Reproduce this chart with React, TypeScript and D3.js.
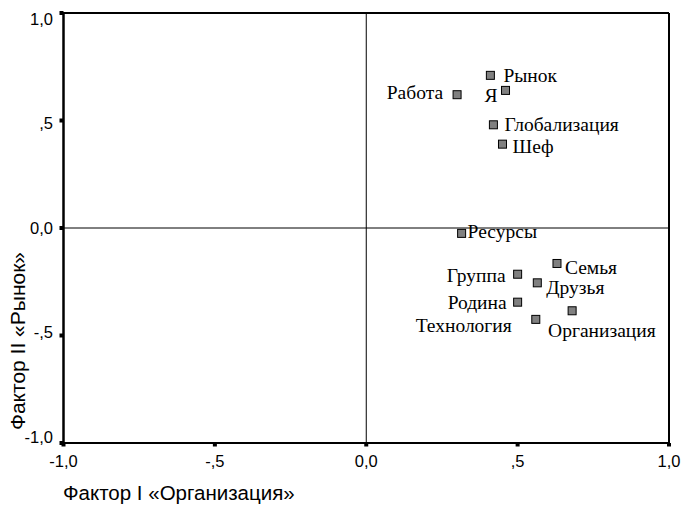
import * as d3 from 'd3';

// factor loadings
const names = ['Рынок', 'Я', 'Работа', 'Глобализация', 'Шеф', 'Ресурсы', 'Семья', 'Группа', 'Друзья', 'Родина', 'Организация', 'Технология'];
const factor1 = [0.41, 0.46, 0.30, 0.42, 0.45, 0.315, 0.63, 0.50, 0.565, 0.50, 0.68, 0.56];
const factor2 = [0.71, 0.64, 0.62, 0.48, 0.39, -0.025, -0.165, -0.215, -0.255, -0.345, -0.385, -0.425];
const tickValues = [-1, -0.5, 0, 0.5, 1];
const tickLabels = ['-1,0', '-,5', '0,0', ',5', '1,0'];
const xTitle = 'Фактор I «Организация»';
const yTitle = 'Фактор II «Рынок»';

// label placement: [dx, dy, anchor]
const labelPlace: Record<string, [number, number, string]> = {
  'Рынок': [13, 7, 'start'],
  'Я': [-8, 12, 'end'],
  'Работа': [-14, 4, 'end'],
  'Глобализация': [11, 6, 'start'],
  'Шеф': [10, 9, 'start'],
  'Ресурсы': [6, 5, 'start'],
  'Семья': [8, 11, 'start'],
  'Группа': [-12, 8, 'end'],
  'Друзья': [9, 11, 'start'],
  'Родина': [-11, 7, 'end'],
  'Организация': [-24, 26, 'start'],
  'Технология': [-24, 13, 'end'],
};

export default function App() {
  const width = 683;
  const height = 505;
  const m = { left: 63.5, right: 669, top: 13, bottom: 443 };

  const x = d3.scaleLinear().domain([-1, 1]).range([m.left, m.right]);
  const y = d3.scaleLinear().domain([-1, 1]).range([m.bottom, m.top]);
  // SPSS squeezes the y tick labels slightly toward the middle
  const yLab = d3.scaleLinear().domain([-1, 1]).range([437, 19]);

  const sans = '"Liberation Sans", Arial, sans-serif';
  const serif = '"Liberation Serif", "Times New Roman", serif';
  const ms = 8;

  return (
    <svg width={width} height={height} style={{ position: 'absolute', left: 0, top: 0, background: '#fff' }}>
      {/* frame */}
      <line x1={m.left} x2={m.right} y1={m.top} y2={m.top} stroke="#000" strokeWidth={2} />
      <line x1={m.right} x2={m.right} y1={m.top} y2={m.bottom} stroke="#000" strokeWidth={2} />
      <line x1={m.left} x2={m.right} y1={m.bottom} y2={m.bottom} stroke="#000" strokeWidth={2} />
      <line x1={m.left} x2={m.left} y1={m.top - 1} y2={m.bottom + 1} stroke="#000" strokeWidth={2.5} />
      {/* reference lines at zero */}
      <line x1={x(0)} x2={x(0)} y1={m.top} y2={m.bottom} stroke="#000" strokeWidth={1} />
      <line x1={m.left} x2={m.right} y1={y(0)} y2={y(0)} stroke="#000" strokeWidth={1} />

      {/* ticks */}
      {tickValues.map((v, i) => (
        <g key={'x' + i}>
          <rect x={x(v) - 2} y={m.bottom} width={4} height={3.5} fill="#000" />
          <text x={x(v)} y={467} textAnchor="middle" fontFamily={sans} fontSize={16.5} fill="#000">
            {tickLabels[i]}
          </text>
        </g>
      ))}
      {tickValues.map((v, i) => (
        <g key={'y' + i}>
          <rect x={m.left - 4} y={y(v) - 2} width={4} height={4} fill="#000" />
          <text x={53} y={yLab(v)} dy="0.36em" textAnchor="end" fontFamily={sans} fontSize={16.5} fill="#000">
            {tickLabels[i]}
          </text>
        </g>
      ))}

      {/* axis titles */}
      <text x={63} y={500} fontFamily={sans} fontSize={20.5} fill="#000">{xTitle}</text>
      <text
        transform={`translate(25,${341}) rotate(-90)`}
        textAnchor="middle"
        fontFamily={sans}
        fontSize={21}
        fill="#000"
      >
        {yTitle}
      </text>

      {/* points */}
      {names.map((n, i) => {
        const px = x(factor1[i]);
        const py = y(factor2[i]);
        const [dx, dy, anchor] = labelPlace[n];
        return (
          <g key={n}>
            <rect x={px - ms / 2} y={py - ms / 2} width={ms} height={ms} fill="#808080" stroke="#000" strokeWidth={1} />
            <text x={px + dx} y={py + dy} textAnchor={anchor} fontFamily={serif} fontSize={19.5} fill="#000">
              {n}
            </text>
          </g>
        );
      })}
    </svg>
  );
}
